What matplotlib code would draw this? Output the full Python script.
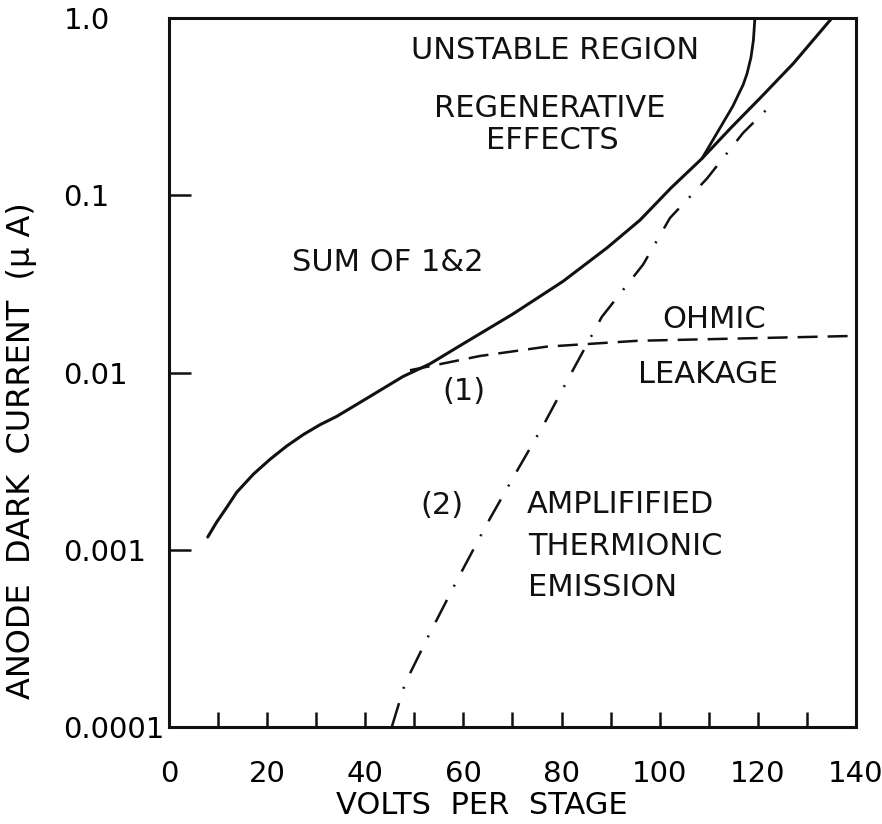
import matplotlib
matplotlib.use("Agg")
import matplotlib.pyplot as plt
from matplotlib.ticker import FixedLocator, MultipleLocator, NullLocator

# solid curve: sum of (1) and (2)
sum_volts = [7.9, 9.7, 11.8, 13.8, 17.2, 20.6, 24.0, 27.4, 30.8, 34.2, 41.0,
             47.7, 53.2, 59.9, 70.1, 80.3, 89.3, 96.0, 102.3, 108.6, 114.5,
             120.4, 127.2, 135.1]
sum_current = [0.00118, 0.00143, 0.00174, 0.00211, 0.00267, 0.00324, 0.00385,
               0.00447, 0.00508, 0.00566, 0.00734, 0.0095, 0.0112, 0.0145,
               0.0214, 0.0327, 0.0506, 0.0725, 0.110, 0.161, 0.240, 0.352,
               0.553, 1.0]

# solid branch bending up: regenerative effects
regen_volts = [108.6, 111.7, 114.9, 117.0, 117.8, 118.6, 119.1, 119.4]
regen_current = [0.161, 0.225, 0.318, 0.42, 0.486, 0.60, 0.75, 1.0]

# dashed: (1) ohmic leakage
ohmic_volts = [49.1, 63.4, 77.0, 95.4, 118.0, 140.0]
ohmic_current = [0.0103, 0.0124, 0.0140, 0.0151, 0.0156, 0.0161]

# dash-dot: (2) amplified thermionic emission
thermo_volts = [45.4, 48.1, 53.2, 58.9, 64.8, 70.5, 76.2, 82.3, 88.2, 96.6,
                102.1, 109.6, 117.0, 123.1]
thermo_current = [1.0e-4, 1.76e-4, 3.40e-4, 6.89e-4, 1.40e-3, 2.66e-3, 4.99e-3,
                  1.03e-2, 2.06e-2, 4.06e-2, 7.45e-2, 0.124, 0.225, 0.331]

x_ticks = [0, 20, 40, 60, 80, 100, 120, 140]
y_ticks = [0.0001, 0.001, 0.01, 0.1, 1.0]
y_tick_labels = ["0.0001", "0.001", "0.01", "0.1", "1.0"]

plt.rcParams["font.family"] = ["DejaVu Sans"]
ink = "#111111"

fig = plt.figure(figsize=(8.82, 8.24), dpi=100)
ax = fig.add_axes([0.1916, 0.1177, 0.7789, 0.8604])

ax.plot(sum_volts, sum_current, color=ink, lw=2.2, solid_capstyle="round",
        solid_joinstyle="round")
ax.plot(regen_volts, regen_current, color=ink, lw=2.0, solid_capstyle="round",
        solid_joinstyle="round")
ax.plot(ohmic_volts, ohmic_current, color=ink, lw=1.8, dashes=(8, 4))
ax.plot(thermo_volts, thermo_current, color=ink, lw=1.8, dashes=(10, 6, 0.8, 6))

ax.set_yscale("log")
ax.set_xlim(0, 140)
ax.set_ylim(1e-4, 1.0)

ax.xaxis.set_major_locator(FixedLocator(x_ticks))
ax.xaxis.set_minor_locator(MultipleLocator(10))
ax.yaxis.set_major_locator(FixedLocator(y_ticks))
ax.yaxis.set_minor_locator(NullLocator())
ax.set_yticklabels(y_tick_labels)

ax.tick_params(axis="x", which="both", direction="in", length=11, width=1.8,
               color=ink, labelsize=21, pad=24)
ax.tick_params(axis="y", which="major", direction="in", length=16, width=1.8,
               color=ink, labelsize=21, pad=76)
for lab in ax.get_yticklabels():
    lab.set_horizontalalignment("left")

for side in ["left", "right", "top", "bottom"]:
    ax.spines[side].set_linewidth(2.2)
    ax.spines[side].set_color(ink)

ax.set_xlabel("VOLTS  PER  STAGE", fontsize=22, va="center")
ax.xaxis.set_label_coords(0.456, -0.11)
ax.set_ylabel("ANODE  DARK  CURRENT  (\u03bc A)", fontsize=23, va="center")
ax.yaxis.set_label_coords(-0.214, 0.39)

txt = dict(fontsize=22, color=ink)
ax.text(78.7, 0.655, "UNSTABLE REGION", ha="center", va="center", **txt)
ax.text(77.6, 0.31, "REGENERATIVE", ha="center", va="center", **txt)
ax.text(78.1, 0.203, "EFFECTS", ha="center", va="center", **txt)
ax.text(44.6, 0.0417, "SUM OF 1&2", ha="center", va="center", **txt)
ax.text(111.1, 0.0198, "OHMIC", ha="center", va="center", **txt)
ax.text(109.8, 0.00975, "LEAKAGE", ha="center", va="center", **txt)
ax.text(60.1, 0.00783, "(1)", ha="center", va="center", **txt)
ax.text(55.6, 0.00178, "(2)", ha="center", va="center", **txt)
ax.text(73.0, 0.00181, "AMPLIFIFIED", ha="left", va="center", **txt)
ax.text(73.2, 0.00104, "THERMIONIC", ha="left", va="center", **txt)
ax.text(73.2, 0.000614, "EMISSION", ha="left", va="center", **txt)

fig.savefig("out.png", dpi=100)
plt.close(fig)
